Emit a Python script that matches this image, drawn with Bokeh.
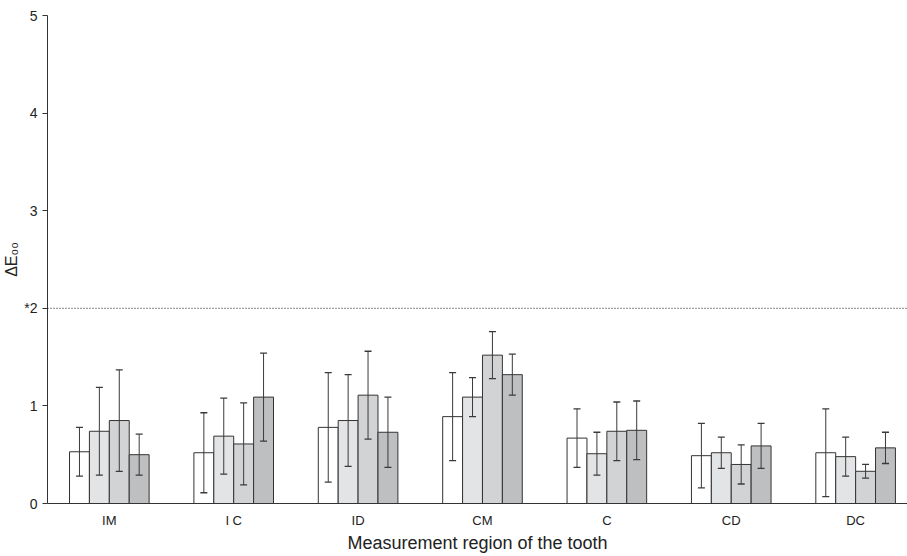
import numpy as np
from bokeh.plotting import figure
from bokeh.models import ColumnDataSource, Span, FixedTicker, Range1d
from bokeh.embed import file_html
from bokeh.resources import INLINE

regions = ["IM", "I C", "ID", "CM", "C", "CD", "DC"]
series_names = ["S1", "S2", "S3", "S4"]
means = [
    [0.53, 0.52, 0.78, 0.89, 0.67, 0.49, 0.52],
    [0.74, 0.69, 0.85, 1.09, 0.51, 0.52, 0.48],
    [0.85, 0.61, 1.11, 1.52, 0.74, 0.40, 0.33],
    [0.50, 1.09, 0.73, 1.32, 0.75, 0.59, 0.57],
]
sds = [
    [0.25, 0.41, 0.56, 0.45, 0.30, 0.33, 0.45],
    [0.45, 0.39, 0.47, 0.20, 0.22, 0.16, 0.20],
    [0.52, 0.42, 0.45, 0.24, 0.30, 0.20, 0.07],
    [0.21, 0.45, 0.36, 0.21, 0.30, 0.23, 0.16],
]
threshold = 2.0
y_ticks = [0, 1, 2, 3, 4, 5]

fills = ["#ffffff", "#e3e4e5", "#d2d3d5", "#bebfc1"]
bar_w = 0.16
offsets = [-1.5 * bar_w, -0.5 * bar_w, 0.5 * bar_w, 1.5 * bar_w]

p = figure(width=907, height=556, output_backend="svg", toolbar_location=None,
           x_range=Range1d(0.503, 7.417), y_range=Range1d(0, 5),
           min_border_left=45, min_border_right=0, min_border_top=15, min_border_bottom=53)
p.xgrid.visible = False
p.ygrid.visible = False
p.outline_line_color = None

centers = np.arange(1, len(regions) + 1)
sources = []
for i in range(4):
    m = np.array(means[i])
    s = np.array(sds[i])
    src = ColumnDataSource(dict(x=centers + offsets[i], top=m, lo=m - s, hi=m + s))
    sources.append(src)
    p.vbar(x="x", top="top", bottom=0, width=bar_w, source=src,
           fill_color=fills[i], line_color="#333333", line_width=1)

err_col = "#3a3a3a"
for src in sources:
    p.segment(x0="x", y0="lo", x1="x", y1="hi", source=src, line_color=err_col, line_width=1)
    p.scatter(x="x", y="lo", marker="dash", size=7, source=src, line_color=err_col, line_width=1.3)
    p.scatter(x="x", y="hi", marker="dash", size=7, source=src, line_color=err_col, line_width=1.3)

p.add_layout(Span(location=threshold, dimension="width", line_color="#111111",
                  line_dash="1 2", line_width=1))

font = "Liberation Sans"
p.yaxis.ticker = FixedTicker(ticks=y_ticks)
p.yaxis.major_label_overrides = {2: "*2"}
p.yaxis.minor_tick_line_color = None
p.yaxis.major_tick_in = 0
p.yaxis.major_tick_out = 5
p.yaxis.axis_label = "ΔE₀₀"
p.yaxis.axis_label_text_font_style = "normal"
p.yaxis.axis_label_text_font = font
p.yaxis.axis_label_text_font_size = "16px"
p.yaxis.axis_label_standoff = 1
p.yaxis.major_label_text_font = font
p.yaxis.major_label_text_font_size = "14px"
p.yaxis.major_label_standoff = 5

p.xaxis.ticker = FixedTicker(ticks=list(centers))
p.xaxis.major_label_overrides = {int(c): r for c, r in zip(centers, regions)}
p.xaxis.minor_tick_line_color = None
p.xaxis.axis_label = "Measurement region of the tooth"
p.xaxis.axis_label_text_font_style = "normal"
p.xaxis.axis_label_text_font = font
p.xaxis.axis_label_text_font_size = "18px"
p.xaxis.axis_label_standoff = 2
p.xaxis.major_label_text_font = font
p.xaxis.major_label_text_font_size = "13px"
p.xaxis.major_label_standoff = 3

for ax in (p.xaxis, p.yaxis):
    ax.axis_line_color = "#333333"
    ax.major_label_text_color = "#222222"
    ax.axis_label_text_color = "#222222"
p.yaxis.major_tick_line_color = "#333333"
p.xaxis.major_tick_line_color = None

open("out.html", "w").write(file_html(p, INLINE))
